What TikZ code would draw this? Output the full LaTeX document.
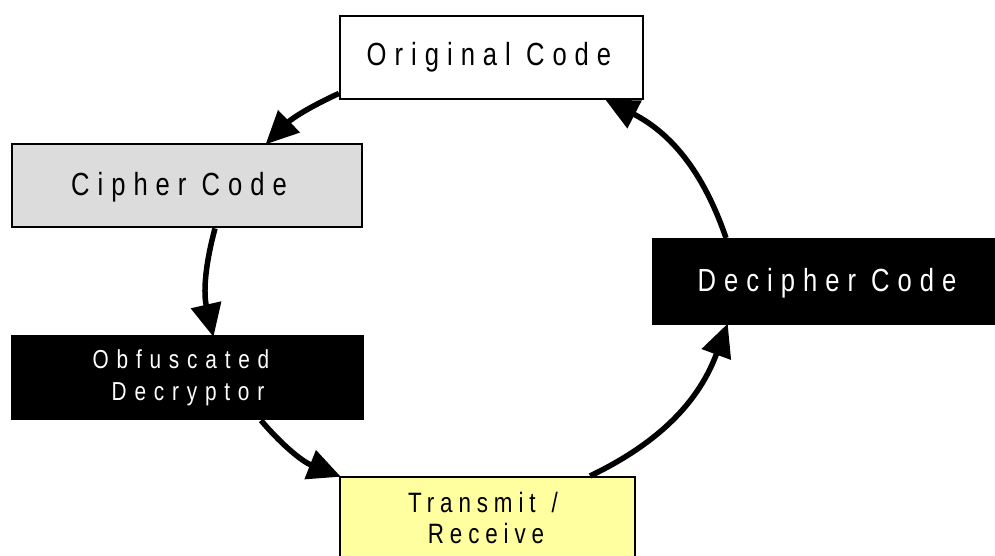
\documentclass[tikz,border=0pt]{standalone}
\usepackage{fontspec}
\setmainfont{Liberation Sans}[FakeStretch=0.8]
\newfontfamily\bigface{Liberation Sans}[FakeStretch=0.8,LetterSpace=25]
\newfontfamily\smallface{Liberation Sans}[FakeStretch=0.8,LetterSpace=30]
\newfontfamily\midface{Liberation Sans}[FakeStretch=0.8,LetterSpace=21]
\usetikzlibrary{arrows.meta,calc}

\tikzset{
  box/.style={draw=black, line width=2.4pt, anchor=north west, inner sep=0pt},
  lbl/.style={anchor=base, inner sep=0pt},
  big/.style={font=\bigface\fontsize{32}{34}\selectfont},
  small/.style={font=\smallface\fontsize{26}{28}\selectfont},
  mid/.style={font=\midface\fontsize{28}{30}\selectfont},
  flow/.style={line width=5.5pt, -{Triangle[length=33pt,width=30pt]},
    shorten >=-2pt},
}

\begin{document}
\begin{tikzpicture}[x=1pt,y=-1pt]
  \useasboundingbox (0,0) rectangle (995,556);
  \clip (0,0) rectangle (995,556);

  % stages of the cycle
  \node[box, fill=white, minimum width=303pt, minimum height=83pt]
    (orig) at (339,15) {};
  \node[box, fill={rgb,255:red,220;green,220;blue,220},
    minimum width=350pt, minimum height=83pt] (ciph) at (11,143) {};
  \node[box, fill=black, minimum width=351pt, minimum height=83pt]
    (obf) at (11,335) {};
  \node[box, fill={rgb,255:red,255;green,255;blue,160},
    minimum width=295pt, minimum height=100pt] (tx) at (339,476) {};
  \node[box, fill=black, minimum width=350pt, minimum height=85pt]
    (dec) at (652,238) {};

  % captions
  \node[lbl, big] (origt) at (489,66) {Original Code};
  \node[lbl, big] (ciptt) at (179,195) {Cipher Code};
  \node[lbl, big, text=white] (dect) at (827,291) {Decipher Code};
  \node[lbl, small, text=white] (obft1) at (181,368) {Obfuscated};
  \node[lbl, small, text=white] (obft2) at (188,400) {Decryptor};
  \node[lbl, mid] (txt1) at (483,512) {Transmit\hspace*{16pt}/};
  \node[lbl, mid] (txt2) at (486,543) {Receive};

  % anchor points of the connectors
  \coordinate (a1) at ($(orig.south west)+(0,-7)$);
  \coordinate (b1) at ($(ciph.north west)+(256,0)$);
  \coordinate (a2) at ($(ciph.south west)+(204,0)$);
  \coordinate (b2) at ($(obf.north west)+(202,0)$);
  \coordinate (a3) at ($(obf.south west)+(250,0)$);
  \coordinate (b3) at ($(tx.north west)+(0,0)$);
  \coordinate (a4) at ($(tx.north west)+(251,0)$);
  \coordinate (b4) at ($(dec.south west)+(75,0)$);
  \coordinate (a5) at ($(dec.north west)+(74,0)$);
  \coordinate (b5) at ($(orig.south west)+(268,0)$);

  \draw[flow] (a1) to[bend right=10] (b1);
  \draw[flow] (a2) to[bend right=14] (b2);
  \draw[flow] (a3) to[bend right=14] (b3);
  \draw[flow] (a4) to[bend right=22] (b4);
  \draw[flow] (a5) to[bend right=22] (b5);
\end{tikzpicture}
\end{document}
